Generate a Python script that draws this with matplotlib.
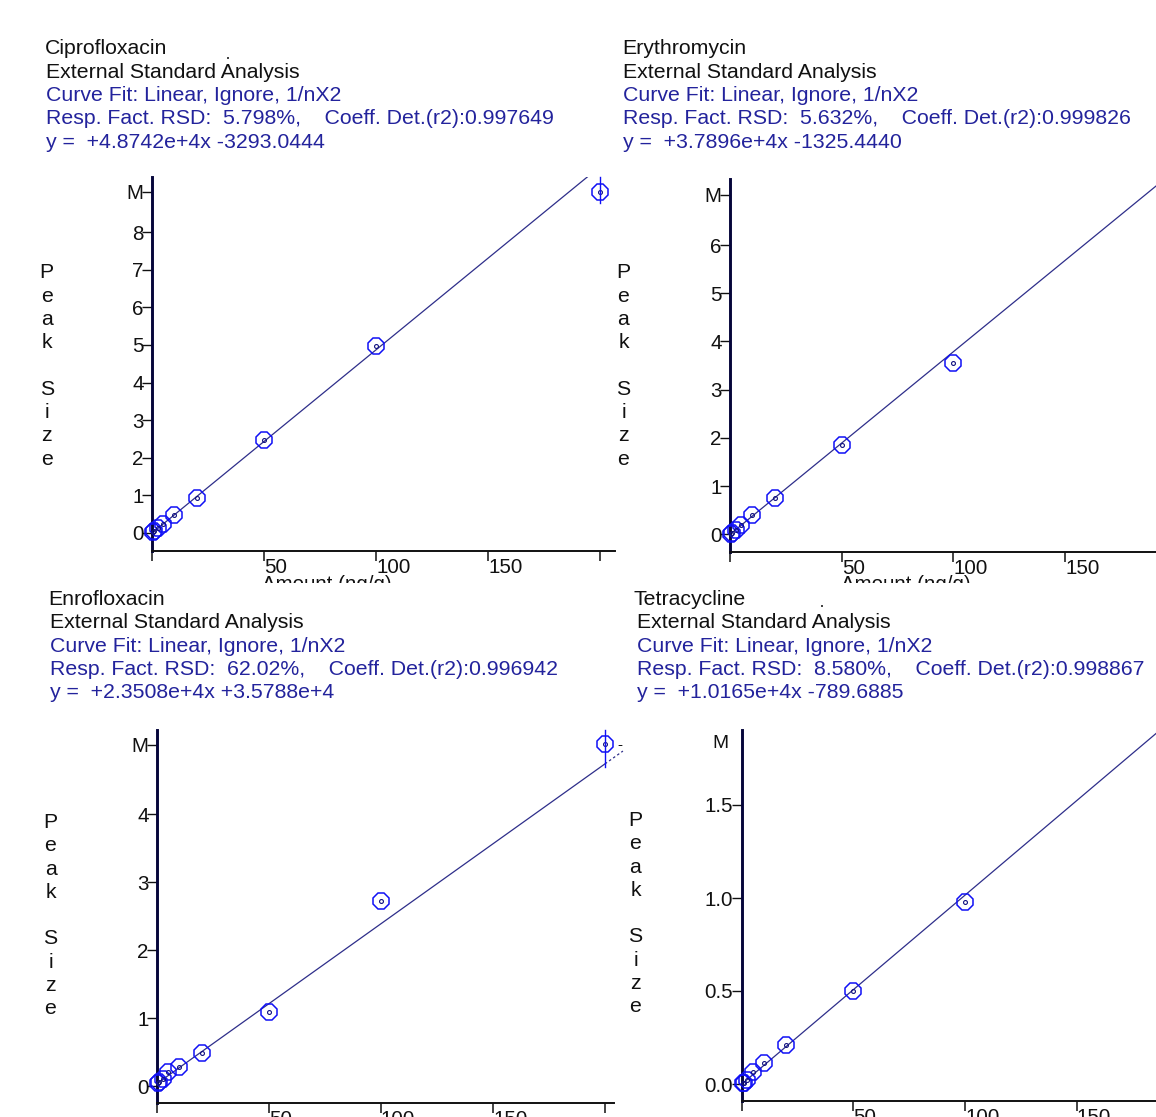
import matplotlib
matplotlib.use("Agg")
import matplotlib.pyplot as plt
from matplotlib.transforms import Bbox, offset_copy
from matplotlib.lines import Line2D
import numpy as np

# ---------------- data (response in millions of area counts) ----------------
names = ["Ciprofloxacin", "Erythromycin", "Enrofloxacin", "Tetracycline"]
rsd = ["5.798%", "5.632%", "62.02%", "8.580%"]
r2 = ["0.997649", "0.999826", "0.996942", "0.998867"]
eq_text = ["+4.8742e+4x -3293.0444", "+3.7896e+4x -1325.4440",
           "+2.3508e+4x +3.5788e+4", "+1.0165e+4x -789.6885"]
slopes = [4.8742e4, 3.7896e4, 2.3508e4, 1.0165e4]
intercepts = [-3293.0444, -1325.4440, 3.5788e4, -789.6885]

conc = [0.5, 1, 2.5, 5, 10, 20, 50, 100, 200]
cipro = [0.02, 0.05, 0.12, 0.23, 0.48, 0.94, 2.47, 4.97, 9.06]
ery = [0.015, 0.035, 0.09, 0.19, 0.40, 0.75, 1.85, 3.55]
enro = [0.04, 0.06, 0.10, 0.20, 0.28, 0.48, 1.09, 2.72, 5.03]
tetra = [0.003, 0.008, 0.02, 0.066, 0.115, 0.21, 0.50, 0.977]
responses = [cipro, ery, enro, tetra]

ytick_vals = [[0, 1, 2, 3, 4, 5, 6, 7, 8], [0, 1, 2, 3, 4, 5, 6],
              [0, 1, 2, 3, 4], [0.0, 0.5, 1.0, 1.5]]
ytick_labels = [["0", "1", "2", "3", "4", "5", "6", "7", "8"],
                ["0", "1", "2", "3", "4", "5", "6"],
                ["0", "1", "2", "3", "4"],
                ["0.0", "0.5", "1.0", "1.5"]]
m_pos = [9.07, 7.04, 5.02, 1.83]
m_has_tick = [True, True, True, False]
xtick_vals = [0, 50, 100, 150, 200]
xtick_labels = ["", "50", "100", "150", ""]
last_bar_low = [8.78, None, 4.69, None]

# ---------------- layout (pixels) ----------------
W, H = 1156, 1117
fig = plt.figure(figsize=(W / 100, H / 100), dpi=100)
plt.rcParams["font.family"] = ["Liberation Sans", "DejaVu Sans"]

# l, r, t, b, x0px, px/unit x, y0px, px/unit y
panels = [
    (152, 615, 177, 551, 152, 2.24, 533, 37.6),
    (730, 1230, 179, 552, 730, 2.234, 534.3, 48.2),
    (157, 614, 730, 1103, 157, 2.24, 1086, 68.0),
    (741.7, 1230, 730, 1101, 741.7, 2.234, 1084, 186.0),
]
header_x = [(45, 46), (622, 623), (48, 50), (633, 637)]
header_base = [54.5, 605]
header_step = 23.3
peak_x = [46.7, 623.5, 50.5, 635.5]
peak_base = [278.3, 278.3, 828, 826]
amount_cx = [327, 906, None, None]

BLACK = "#111111"
HBLUE = "#23239c"
LINEC = "#2e2e8a"
MARKC = "#1010f5"
HFS = 15.3
TFS = 14.8

for i in range(4):
    l, r, t, b, x0, sx, y0, sy = panels[i]
    ax = fig.add_axes([l / W, 1 - b / H, (r - l) / W, (b - t) / H])
    xmin, xmax = (l - x0) / sx, (r - x0) / sx
    ymin, ymax = (y0 - b) / sy, (y0 - t) / sy
    ax.set_xlim(xmin, xmax)
    ax.set_ylim(ymin, ymax)
    ax.set_facecolor("none")
    for s in ("top", "right"):
        ax.spines[s].set_visible(False)
    ax.spines["left"].set_color("#05053a")
    ax.spines["left"].set_linewidth(2.1)
    ax.spines["bottom"].set_color(BLACK)
    ax.spines["bottom"].set_linewidth(1.4)

    # fit line
    xl = np.linspace(0, 200, 400)
    ax.plot(xl, (slopes[i] * xl + intercepts[i]) / 1e6, color=LINEC, lw=0.9, zorder=2)
    xd = np.linspace(200, 208, 10)
    ax.plot(xd, (slopes[i] * xd + intercepts[i]) / 1e6, color=LINEC, lw=0.9,
            ls=(0, (2, 2)), zorder=2, clip_on=False if i == 2 else True)

    # points
    yv = responses[i]
    xv = conc[:len(yv)]
    ax.plot(xv, yv, ls="none", marker="8", ms=12.5, mfc="none", mec=MARKC, mew=1.1,
            clip_on=False, zorder=4)
    ax.plot(xv, yv, ls="none", marker="o", ms=2.8, mfc="none", mec="#101080", mew=0.8,
            clip_on=False, zorder=5)
    if last_bar_low[i] is not None:
        ax.plot([200, 200], [last_bar_low[i], ymax], color=MARKC, lw=1.0,
                clip_on=False, zorder=5)
    if i == 2:
        ax.text(206.5, m_pos[i], "-", color=BLACK, fontsize=11, ha="center",
                va="center", clip_on=False)

    # ticks
    yt = list(ytick_vals[i])
    ylab = list(ytick_labels[i])
    if m_has_tick[i]:
        yt.append(m_pos[i])
        ylab.append("M")
    else:
        ax.text(0, m_pos[i], "M", ha="center", va="center", fontsize=TFS - 1,
                color=BLACK,
                transform=offset_copy(ax.transData, fig=fig, x=-21.7, y=0, units="dots"))
    ax.set_yticks(yt)
    ax.set_yticklabels(ylab)
    ax.set_xticks(xtick_vals)
    ax.set_xticklabels(xtick_labels)
    for lab in ax.get_xticklabels():
        lab.set_horizontalalignment("left")
    ax.tick_params(axis="y", direction="out", length=7.0, width=1.0, pad=-1.0,
                   labelsize=TFS, colors=BLACK)
    ax.tick_params(axis="x", direction="out", length=7.5, width=1.1, pad=-2.8,
                   labelsize=TFS, colors=BLACK)

    # header
    hx0, hx1 = header_x[i]
    base = header_base[i // 2]
    lines = [names[i], "External Standard Analysis", "Curve Fit: Linear, Ignore, 1/nX2",
             "Resp. Fact. RSD:  " + rsd[i] + ",    Coeff. Det.(r2):" + r2[i],
             "y =  " + eq_text[i]]
    for k, s in enumerate(lines):
        fig.text((hx0 if k == 0 else hx1) / W, 1 - (base + k * header_step) / H, s,
                 ha="left", va="baseline", fontsize=HFS,
                 color=BLACK if k < 2 else HBLUE)

    # vertical "Peak Size"
    letters = ["P", "e", "a", "k", "", "S", "i", "z", "e"]
    for k, ch in enumerate(letters):
        if ch:
            fig.text(peak_x[i] / W, 1 - (peak_base[i] + k * 23.3) / H, ch,
                     ha="center", va="baseline", fontsize=HFS, color=BLACK)

    # x-axis title, cut off by the next panel
    if amount_cx[i] is not None:
        tx = fig.text(amount_cx[i] / W, 1 - 575 / H, "Amount (ng/g)", ha="center",
                      va="top", fontsize=TFS, color=BLACK)
        tx.set_clip_box(Bbox([[0, H - 583], [W, H]]))
        tx.set_clip_on(True)

# small stray marks above "Analysis"
for (px, py) in [(228, 58), (822, 606)]:
    fig.add_artist(Line2D([px / W], [1 - py / H], marker="s", ms=1.6, mew=0,
                          color="#444444", transform=fig.transFigure))

fig.savefig("out.png", dpi=100, facecolor="white")
